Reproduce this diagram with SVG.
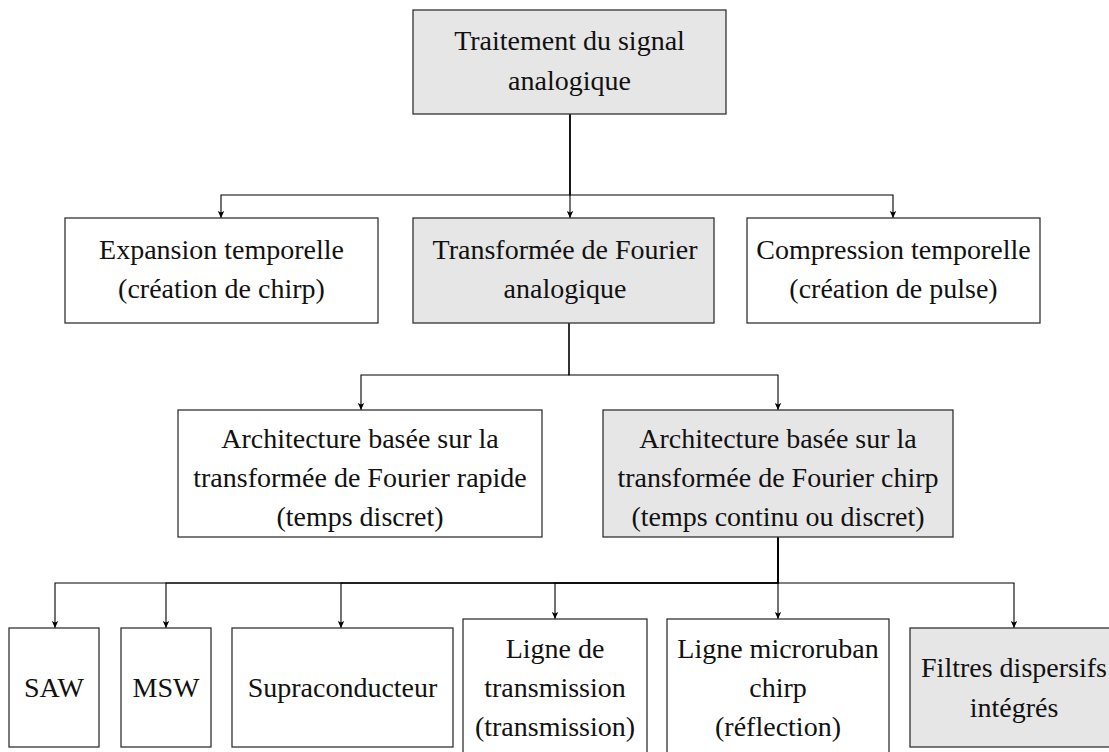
<svg xmlns="http://www.w3.org/2000/svg" width="1109" height="752" viewBox="0 0 1109 752">
<style>
.box{stroke:#333;stroke-width:1.3;fill:#fff}
.g{fill:#e6e6e6}
text{font-size:28px;fill:#111;text-anchor:middle}
.c{fill:none;stroke:#000;stroke-width:1.1}
</style>
<defs>
<marker id="ah" markerWidth="8" markerHeight="8" refX="7" refY="4" orient="auto" markerUnits="userSpaceOnUse">
<path d="M0,0.8 L7,4 L0,7.2 L1.5,4 Z" fill="#000"/>
</marker>
</defs>
<rect width="1109" height="752" fill="#fff"/>
<g id="connectors">
<path class="c" d="M570,114 V218" marker-end="url(#ah)"/>
<path class="c" d="M570,114 V195 H221 V218" marker-end="url(#ah)"/>
<path class="c" d="M570,114 V195 H893 V218" marker-end="url(#ah)"/>
<path class="c" d="M569,323 V375 H361 V410" marker-end="url(#ah)"/>
<path class="c" d="M569,323 V375 H778 V410" marker-end="url(#ah)"/>
<path class="c" d="M778,537 V583 H55 V628" marker-end="url(#ah)"/>
<path class="c" d="M778,537 V583 H166 V628" marker-end="url(#ah)"/>
<path class="c" d="M778,537 V583 H341 V628" marker-end="url(#ah)"/>
<path class="c" d="M778,537 V583 H555 V619" marker-end="url(#ah)"/>
<path class="c" d="M778,537 V619" marker-end="url(#ah)"/>
<path class="c" d="M778,537 V583 H1014 V628" marker-end="url(#ah)"/>
</g>
<g font-family="'Liberation Serif', 'DejaVu Serif', serif">
<g id="n-root">
<rect class="box g" x="413" y="10" width="313" height="104"/>
<text x="569.5" y="50">Traitement du signal</text>
<text x="569.5" y="90">analogique</text>
</g>
<g id="n-expansion">
<rect class="box" x="65" y="218" width="313" height="105"/>
<text x="221.5" y="259">Expansion temporelle</text>
<text x="221.5" y="298">(création de chirp)</text>
</g>
<g id="n-fourier">
<rect class="box g" x="413" y="218" width="301" height="105"/>
<text x="565" y="259">Transformée de Fourier</text>
<text x="565" y="298">analogique</text>
</g>
<g id="n-compression">
<rect class="box" x="747" y="218" width="293" height="105"/>
<text x="893.5" y="259">Compression temporelle</text>
<text x="893.5" y="298">(création de pulse)</text>
</g>
<g id="n-fft">
<rect class="box" x="178" y="410" width="364" height="127"/>
<text x="360" y="448">Architecture basée sur la</text>
<text x="360" y="487">transformée de Fourier rapide</text>
<text x="360" y="526">(temps discret)</text>
</g>
<g id="n-chirp">
<rect class="box g" x="603" y="410" width="350" height="127"/>
<text x="778" y="448">Architecture basée sur la</text>
<text x="778" y="487">transformée de Fourier chirp</text>
<text x="778" y="526">(temps continu ou discret)</text>
</g>
<g id="n-saw">
<rect class="box" x="9" y="628" width="90" height="119"/>
<text x="54" y="697">SAW</text>
</g>
<g id="n-msw">
<rect class="box" x="121" y="628" width="90" height="119"/>
<text x="166" y="697">MSW</text>
</g>
<g id="n-supra">
<rect class="box" x="232" y="628" width="221" height="119"/>
<text x="342.5" y="697">Supraconducteur</text>
</g>
<g id="n-ligne">
<rect class="box" x="463" y="619" width="184" height="140"/>
<text x="555" y="658">Ligne de</text>
<text x="555" y="697">transmission</text>
<text x="555" y="736">(transmission)</text>
</g>
<g id="n-microruban">
<rect class="box" x="667" y="619" width="222" height="140"/>
<text x="778" y="658">Ligne microruban</text>
<text x="778" y="697">chirp</text>
<text x="778" y="736">(réflection)</text>
</g>
<g id="n-filtres">
<rect class="box g" x="910" y="628" width="208" height="119"/>
<text x="1014" y="677">Filtres dispersifs</text>
<text x="1014" y="717">intégrés</text>
</g>
</g>
</svg>
